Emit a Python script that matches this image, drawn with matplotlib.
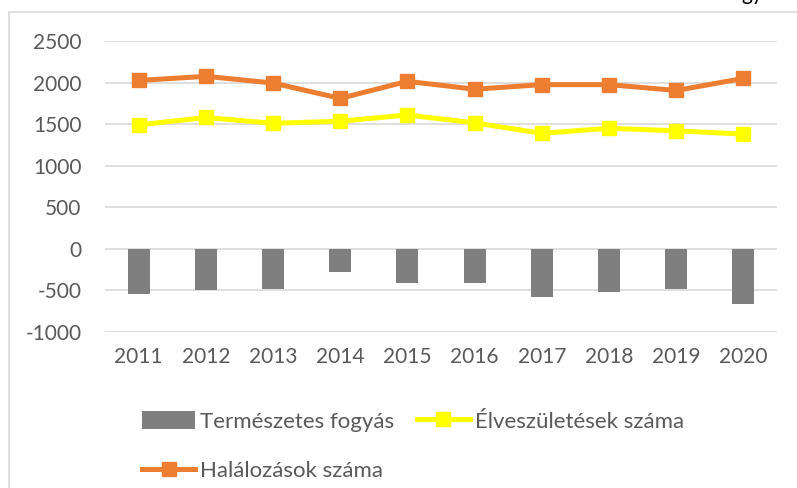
import numpy as np
import matplotlib.pyplot as plt
from matplotlib.patches import Rectangle

plt.rcParams['font.family'] = ['Lato', 'DejaVu Sans']
plt.rcParams['axes.unicode_minus'] = False

evek = ['2011', '2012', '2013', '2014', '2015', '2016', '2017', '2018', '2019', '2020']
fogyas = [-540, -500, -485, -280, -410, -405, -585, -520, -485, -665]
szuletes = [1490, 1580, 1510, 1535, 1610, 1515, 1390, 1450, 1420, 1380]
halalozas = [2025, 2075, 1995, 1810, 2015, 1920, 1975, 1975, 1905, 2050]
yticks = [-1000, -500, 0, 500, 1000, 1500, 2000, 2500]

W, H = 797, 488
fig = plt.figure(figsize=(W / 100, H / 100), dpi=100)
# plot area in pixels: left 105, right 777, top 41, bottom 332
ax = fig.add_axes([105 / W, 1 - 332 / H, (777 - 105) / W, (332 - 41) / H])

txt = '#595959'
x = np.arange(len(evek))

ax.set_axisbelow(True)
ax.grid(axis='y', color='#D9D9D9', lw=1.2)
b = ax.bar(x, fogyas, width=0.33, color='#7F7F7F', label='Természetes fogyás', zorder=2)
l2, = ax.plot(x, halalozas, color='#ED7D31', lw=3.6, marker='s', ms=9.5,
              label='Halálozások száma', zorder=3)
l1, = ax.plot(x, szuletes, color='#FFFF00', lw=3.6, marker='s', ms=9.5,
              label='Élveszületések száma', zorder=3)

ax.set_xlim(-0.5, len(evek) - 0.5)
ax.set_ylim(-1000, 2500)
ax.set_yticks(yticks)
ax.set_xticks(x)
ax.set_xticklabels(evek)
for s in ax.spines.values():
    s.set_visible(False)
ax.tick_params(length=0, labelsize=15, labelcolor=txt)
ax.tick_params(axis='y', pad=17)
ax.tick_params(axis='x', pad=11)

leg = fig.legend([b, l2, l1], ['Természetes fogyás', 'Halálozások száma', 'Élveszületések száma'],
                 ncol=2, loc='upper left', bbox_to_anchor=(142 / W, 1 - 411 / H),
                 frameon=False, fontsize=16, handlelength=2.4, handletextpad=0.22,
                 columnspacing=1.0, labelspacing=1.3, borderaxespad=0, borderpad=0,
                 handleheight=0.85)
for t in leg.get_texts():
    t.set_color(txt)

# outer chart border (extends past the right and bottom edges)
fig.patches.append(Rectangle((9 / W, -0.1), 1.2, 1 - 12 / H + 0.1, transform=fig.transFigure,
                             fill=False, edgecolor='#D9D9D9', lw=1.2))
fig.text(741 / W, 1.0, 'gy', fontsize=15, color='black', va='baseline')

fig.savefig('out.png', dpi=100)
